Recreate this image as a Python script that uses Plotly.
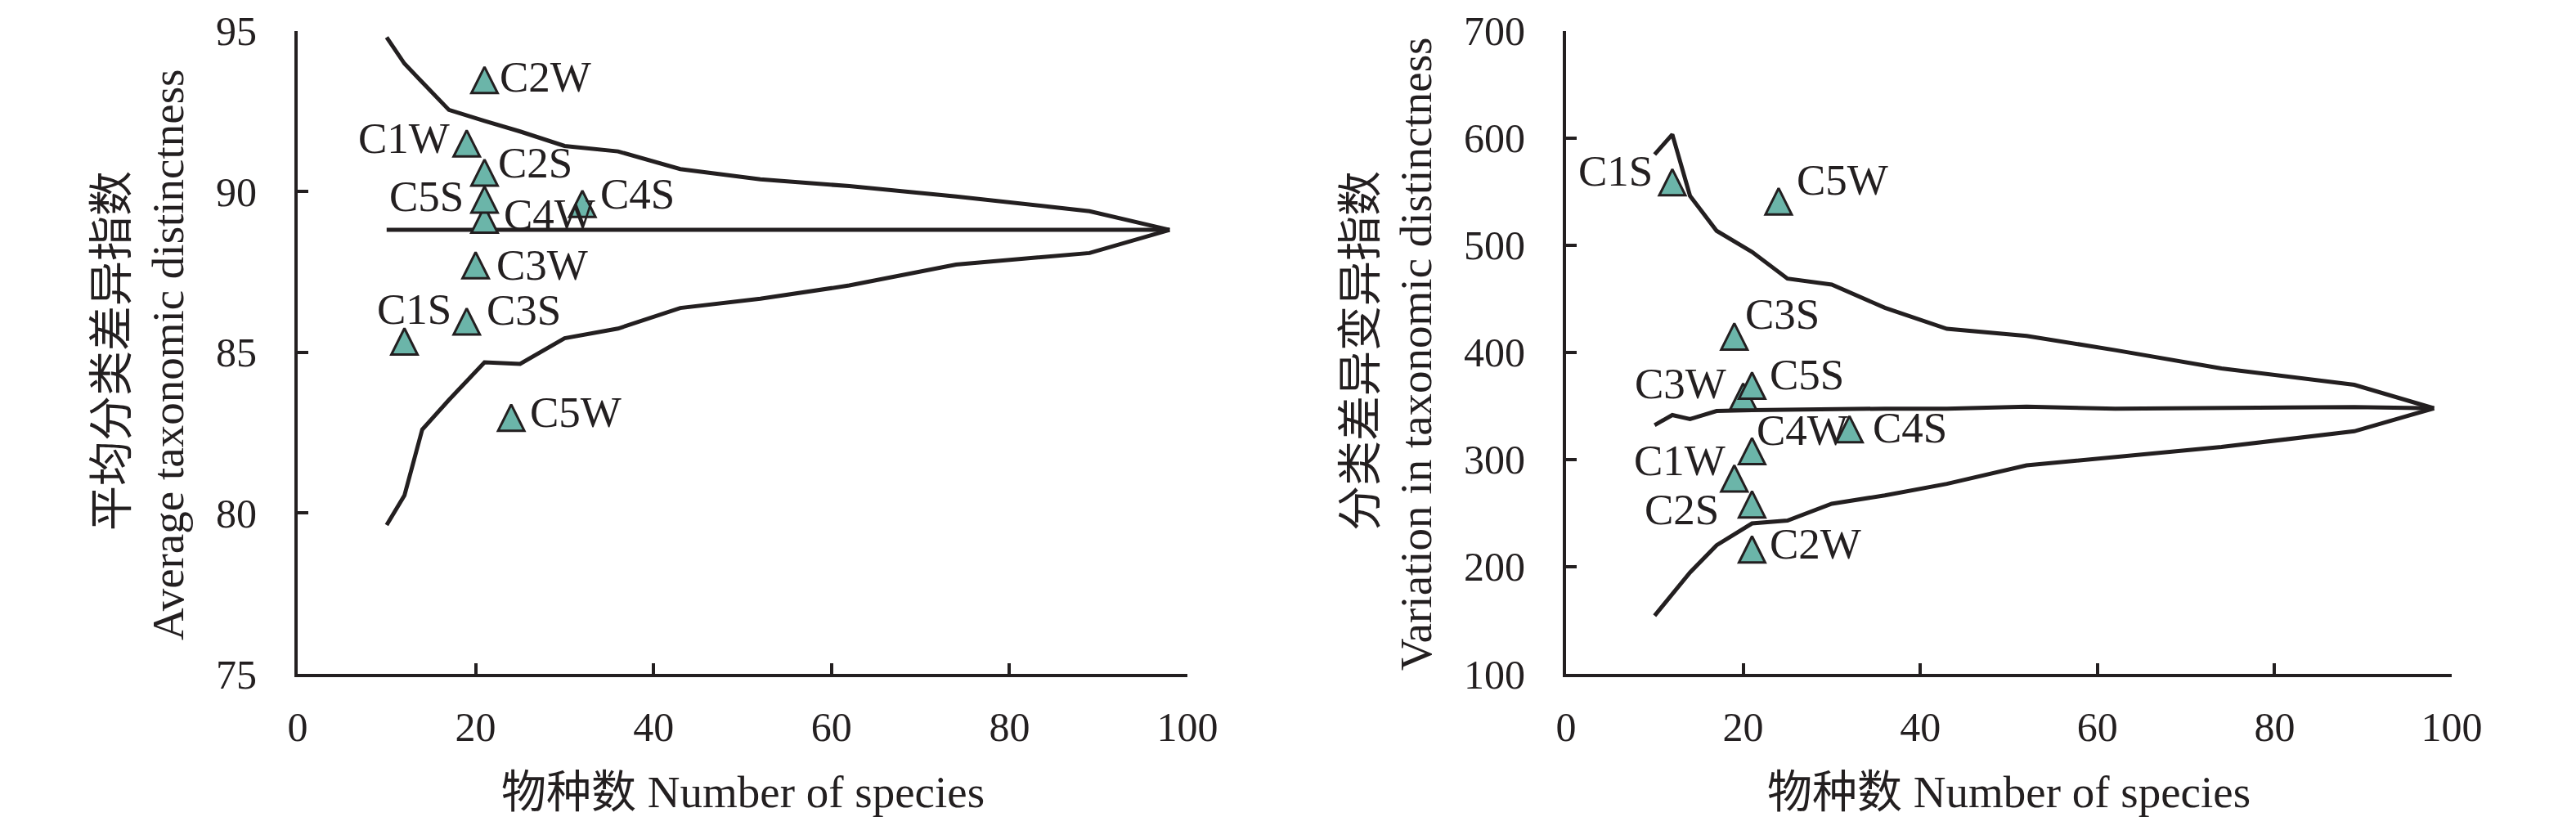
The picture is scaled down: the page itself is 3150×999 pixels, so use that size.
""" taxonomic distinctness funnel plots (AvTD and VarTD) """

import plotly.graph_objects as go

# simulated 95% funnel
species = [10, 12, 14, 17, 21, 25, 30, 36, 43, 52, 62, 74, 89, 98]
avtd_upper = [94.8, 93.98, 93.4, 92.54, 92.2, 91.87, 91.42, 91.25, 90.7, 90.38, 90.17, 89.85, 89.39, 88.81]
avtd_mean = [88.81, 88.81, 88.81, 88.81, 88.81, 88.81, 88.81, 88.81, 88.81, 88.81, 88.81, 88.81, 88.81, 88.81]
avtd_lower = [79.63, 80.55, 82.6, 83.52, 84.69, 84.64, 85.44, 85.74, 86.38, 86.67, 87.08, 87.73, 88.09, 88.81]

vartd_upper = [584.7, 603.3, 546, 513.4, 493.7, 468.8, 463.2, 441.6, 422, 415.4, 402.1, 385, 369.7, 347.8]
vartd_mean = [332.1, 341.5, 337.7, 345.3, 346, 346.6, 347, 347.5, 347.4, 349.4, 347.4, 347.8, 349, 347.8]
vartd_lower = [154.3, 175, 194.6, 220, 240.4, 243, 258.7, 266.6, 277.3, 294.6, 302, 311.7, 326.4, 347.8]

# sampling sites
sites = ["C1S", "C1W", "C2S", "C2W", "C3S", "C3W", "C4S", "C4W", "C5S", "C5W"]
site_species = [12, 19, 21, 21, 19, 20, 32, 21, 21, 24]
site_avtd = [85.34, 91.5, 90.59, 93.47, 85.96, 87.71, 89.62, 89.13, 89.75, 82.97]
site_vartd = [558.7, 282.4, 258.2, 216.2, 414.8, 358.8, 328.3, 307.9, 369, 540.9]

# label placement (xanchor, xshift px, yshift px)
avtd_label_pos = {
    "C1S": ("center", 12, 39), "C1W": ("right", -19, 6), "C2S": ("left", 15, 12),
    "C2W": ("left", 17, 4), "C3S": ("left", 22, 14), "C3W": ("left", 23, 0),
    "C4S": ("left", 20, 12), "C4W": ("left", 22, 6), "C5S": ("right", -23, 4),
    "C5W": ("left", 21, 7),
}
vartd_label_pos = {
    "C1S": ("right", -22, 14), "C1W": ("right", -9, 22), "C2S": ("right", -38, -6),
    "C2W": ("left", 20, 7), "C3S": ("left", 11, 27), "C3W": ("right", -19, 16),
    "C4S": ("left", 26, 2), "C4W": ("left", 4, 26), "C5S": ("left", 20, 13),
    "C5W": ("left", 20, 26),
}

INK = "#231f20"
TEAL = "#6bb5a9"
FONT = "Liberation Serif, Noto Sans CJK SC, serif"
W, H = 3150, 999
OFF_X = 8  # page body margin, only compensated horizontally so top labels stay inside
OFF_Y = 2

fig = go.Figure()


def add_panel(fig, upper, mean, lower, values, label_pos, xa, ya):
    """ adds funnel lines, site markers and labels to one pair of axes """
    for series in (upper, mean, lower):
        fig.add_trace(go.Scatter(x=species, y=series, mode="lines", xaxis=xa, yaxis=ya,
                                 line=dict(color=INK, width=5), showlegend=False, hoverinfo="skip"))
    # arrow rotated + standoff gives a centred upright triangle
    fig.add_trace(go.Scatter(x=site_species, y=values, mode="markers", xaxis=xa, yaxis=ya,
                             marker=dict(symbol="arrow-down", angle=180, size=32, standoff=16,
                                         color=TEAL, line=dict(color=INK, width=3)),
                             showlegend=False))
    for name, sx, sy in zip(sites, site_species, values):
        anchor, dx, dy = label_pos[name]
        fig.add_annotation(x=sx, y=sy, xref=xa, yref=ya, text=name, showarrow=False,
                           xanchor=anchor, yanchor="middle", xshift=dx, yshift=dy,
                           font=dict(family=FONT, size=53, color=INK))


add_panel(fig, avtd_upper, avtd_mean, avtd_lower, site_avtd, avtd_label_pos, "x", "y")
add_panel(fig, vartd_upper, vartd_mean, vartd_lower, site_vartd, vartd_label_pos, "x2", "y2")

axis_style = dict(showgrid=False, zeroline=False, showline=True, linecolor=INK, linewidth=4,
                  ticks="inside", ticklen=13, tickwidth=4, tickcolor=INK, automargin=False,
                  ticklabeloverflow="allow",
                  tickfont=dict(family=FONT, size=50, color=INK))

y_dom = [1 - (818 - OFF_Y) / H, 1 - (31.7 - OFF_Y) / H]
fig.update_layout(
    width=W, height=H, margin=dict(l=0, r=0, t=0, b=0, autoexpand=False),
    paper_bgcolor="white", plot_bgcolor="white",
    xaxis=dict(domain=[(364 - OFF_X) / W, (1452 - OFF_X) / W], range=[0, 100], dtick=20,
               ticklabelstandoff=18, **axis_style),
    yaxis=dict(domain=y_dom, range=[75, 95], dtick=5, ticklabelstandoff=36, **axis_style),
    xaxis2=dict(domain=[(1915 - OFF_X) / W, (2998 - OFF_X) / W], range=[0, 100], dtick=20, anchor="y2",
                ticklabelstandoff=18, **axis_style),
    yaxis2=dict(domain=y_dom, range=[100, 700], dtick=100, anchor="x2",
                ticklabelstandoff=36, **axis_style),
)

# axis titles
title_font = dict(family=FONT, size=55, color=INK)
titles = [
    ("物种数 Number of species", 908, 962, 0),
    ("物种数 Number of species", 2456, 962, 0),
    ("平均分类差异指数", 137, 423, -90),
    ("Average taxonomic distinctness", 205, 427, -90),
    ("分类差异变异指数", 1664, 423, -90),
    ("Variation in taxonomic distinctness", 1731, 427, -90),
]
for text, px, py, ang in titles:
    fig.add_annotation(x=(px - OFF_X) / W, y=1 - (py - OFF_Y) / H, xref="paper", yref="paper", text=text,
                       showarrow=False, textangle=ang, xanchor="center", yanchor="middle",
                       font=title_font)

fig.write_html("out.html")
